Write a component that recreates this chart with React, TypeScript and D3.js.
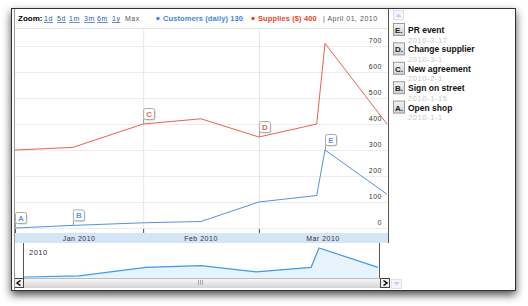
import React from "react";
import * as d3 from "d3";

const dates = ["2010-01-01", "2010-01-15", "2010-02-01", "2010-02-15", "2010-03-01", "2010-03-15", "2010-03-17", "2010-04-01"];
const customers = [0, 10, 20, 25, 100, 125, 300, 130];
const supplies = [300, 310, 400, 420, 350, 400, 710, 400];
const yTicks = [0, 100, 200, 300, 400, 500, 600, 700];
const monthTicks = ["2010-01-01", "2010-02-01", "2010-03-01"];
const monthLabels = ["Jan 2010", "Feb 2010", "Mar 2010"];
const annLetters = ["A", "B", "C", "D", "E"];
const annTitles = ["Open shop", "Sign on street", "New agreement", "Change supplier", "PR event"];
const annDates = ["2010-1-1", "2010-1-15", "2010-2-1", "2010-3-1", "2010-3-17"];
const annIndex = [0, 1, 2, 4, 6];
const annSeries = ["customers", "customers", "supplies", "supplies", "customers"];
const zoomLinks = ["1d", "5d", "1m", "3m", "6m", "1y"];

const BLUE = "#3f86dd";
const RED = "#e8452a";
const FONT = "'Liberation Sans', Arial, sans-serif";

export default function App() {
  const parse = d3.timeParse("%Y-%m-%d");
  const ds = dates.map((d) => parse(d) as Date);
  const domain = [parse("2010-01-01") as Date, parse("2010-04-01") as Date];
  const x = d3.scaleTime().domain(domain).range([15, 387]);
  const y = d3.scaleLinear().domain([0, 700]).range([228, 46]);
  const xo = d3.scaleTime().domain(domain).range([24, 378]);
  const yo = d3.scaleLog().domain([300, 710]).range([277, 248]);

  const line = d3.line<number>().x((_, i) => x(ds[i])).y((v) => y(v));
  const oLine = d3.line<number>().x((_, i) => xo(ds[i])).y((v) => yo(v));
  const oArea = d3.area<number>().x((_, i) => xo(ds[i])).y0(278).y1((v) => yo(v));

  const seriesMap: Record<string, number[]> = { customers, supplies };
  const colorMap: Record<string, string> = { customers: BLUE, supplies: RED };

  const zoomX = [44, 57, 69, 84, 97, 112];

  return (
    <div style={{ position: "absolute", left: 0, top: 0 }}>
      <svg width={528} height={306} style={{ display: "block", fontFamily: FONT }}>
        <defs>
          <filter id="shadow" x="-10%" y="-10%" width="120%" height="130%">
            <feDropShadow dx="0" dy="4" stdDeviation="4.5" floodColor="#000" floodOpacity="0.7" />
          </filter>
          <linearGradient id="sbar" x1="0" y1="0" x2="0" y2="1">
            <stop offset="0" stopColor="#fafafa" />
            <stop offset="1" stopColor="#d4d4d4" />
          </linearGradient>
          <linearGradient id="boxg" x1="0" y1="0" x2="0" y2="1">
            <stop offset="0" stopColor="#f4f4f4" />
            <stop offset="1" stopColor="#d0d0d0" />
          </linearGradient>
        </defs>
        <rect x={0} y={0} width={528} height={306} fill="#fff" />
        {/* window frame */}
        <rect x={11.5} y={8.5} width={504} height={282} fill="#fff" stroke="#333" strokeWidth={1} filter="url(#shadow)" />

        {/* toolbar separator */}
        <line x1={14} x2={388} y1={28.5} y2={28.5} stroke="#e4e4ea" />

        {/* gridlines */}
        {yTicks.map((t) => (
          <line key={"g" + t} x1={14} x2={388} y1={y(t) + 0.5} y2={y(t) + 0.5} stroke="#ebebf0" />
        ))}
        {monthTicks.slice(1).map((m) => (
          <line key={"v" + m} x1={x(parse(m) as Date) + 0.5} x2={x(parse(m) as Date) + 0.5} y1={29} y2={232} stroke="#e6e6ec" />
        ))}

        {/* y labels */}
        {yTicks.map((t) => (
          <text key={"yl" + t} x={382} y={y(t) - 3} textAnchor="end" fontSize={7} letterSpacing={0.5} fill="#333">
            {t}
          </text>
        ))}

        {/* series lines */}
        <path d={line(supplies) as string} fill="none" stroke={RED} strokeWidth={1} strokeOpacity={0.85} />
        <path d={line(customers) as string} fill="none" stroke={BLUE} strokeWidth={1} strokeOpacity={0.9} />

        {/* flags */}
        {annLetters.map((L, k) => {
          const s = annSeries[k];
          const i = annIndex[k];
          const px = x(ds[i]);
          const py = y(seriesMap[s][i]);
          const top = py - 16;
          return (
            <g key={"f" + L}>
              <line x1={px + 0.5} x2={px + 0.5} y1={top + 11} y2={py} stroke="#999" />
              <rect x={px + 1.5} y={top + 1.5} width={11} height={11} rx={2} fill="#bbb" opacity={0.6} />
              <rect x={px + 0.5} y={top + 0.5} width={11} height={11} rx={2} fill="#fff" stroke="#aaa" />
              <text x={px + 6} y={top + 9} textAnchor="middle" fontSize={8} fontWeight="bold" fill={colorMap[s]} fillOpacity={0.85}>
                {L}
              </text>
            </g>
          );
        })}

        {/* axis band */}
        <rect x={14} y={233} width={374} height={10} fill="#d3e5f6" />
        {monthTicks.map((m) => (
          <line key={"t" + m} x1={x(parse(m) as Date) + 0.5} x2={x(parse(m) as Date) + 0.5} y1={229} y2={233} stroke="#555" />
        ))}
        {monthLabels.map((lab, i) => {
          const a = parse(monthTicks[i]) as Date;
          const b = i + 1 < monthTicks.length ? (parse(monthTicks[i + 1]) as Date) : domain[1];
          return (
            <text key={lab} x={(x(a) + x(b)) / 2} y={241} textAnchor="middle" fontSize={7} letterSpacing={0.5} fill="#333">
              {lab}
            </text>
          );
        })}

        {/* overview */}
        <path d={oArea(supplies) as string} fill="#e8f4fd" />
        <path d={oLine(supplies) as string} fill="none" stroke="#3d9be9" strokeWidth={1.2} />
        <text x={29} y={255} fontSize={7.5} letterSpacing={0.5} fill="#333">2010</text>
        <line x1={23.5} x2={23.5} y1={243} y2={278} stroke="#555" />
        <line x1={379.5} x2={379.5} y1={243} y2={278} stroke="#555" />

        {/* scrollbar */}
        <rect x={14} y={278} width={375} height={10} fill="url(#sbar)" />
        <line x1={14} x2={389} y1={278.5} y2={278.5} stroke="#bbb" />
        {[-2, 0, 2].map((o) => (
          <line key={"grip" + o} x1={200.5 + o} x2={200.5 + o} y1={280} y2={285} stroke="#aaa" />
        ))}
        <rect x={14.5} y={278.5} width={9} height={9} fill="#eee" stroke="#444" />
        <path d="M 20.5 280.5 L 17 283 L 20.5 285.5" fill="none" stroke="#000" strokeWidth={1.5} />
        <rect x={380.5} y={278.5} width={9} height={9} fill="#eee" stroke="#444" />
        <path d="M 383.5 280.5 L 387 283 L 383.5 285.5" fill="none" stroke="#000" strokeWidth={1.5} />

        {/* borders of plot */}
        <line x1={14.5} x2={14.5} y1={9} y2={290} stroke="#999" />
        <line x1={388.5} x2={388.5} y1={9} y2={243} stroke="#555" />

        {/* toolbar */}
        <text x={18} y={21} fontSize={8} fontWeight="bold" fill="#000">Zoom:</text>
        {zoomLinks.map((z, i) => (
          <text key={z} x={zoomX[i]} y={21} fontSize={7} letterSpacing={0.5} fill="#2a5db0" textDecoration="underline">
            {z}
          </text>
        ))}
        <text x={125} y={21} fontSize={7} letterSpacing={0.5} fill="#555">Max</text>

        <circle cx={158} cy={18.5} r={1.7} fill={BLUE} />
        <text x={163} y={21} fontSize={7.5} fontWeight="bold" fill={BLUE} letterSpacing={0.1}>
          {"Customers (daily) " + customers[customers.length - 1]}
        </text>
        <circle cx={253} cy={18.5} r={1.7} fill={RED} />
        <text x={258} y={21} fontSize={7.5} fontWeight="bold" fill={RED} letterSpacing={0.1}>
          {"Supplies ($) " + supplies[supplies.length - 1]}
        </text>
        <text x={323} y={21} fontSize={7} letterSpacing={0.5} fill="#555">
          {"| " + d3.timeFormat("%B %d, %Y")(ds[ds.length - 1])}
        </text>

        {/* right annotation panel */}
        <rect x={393.5} y={10.5} width={10} height={9} fill="#f4f4fa" stroke="#e0e0ea" />
        <path d="M 395.5 17 L 398.5 13.5 L 401.5 17 Z" fill="#c5cdf0" />
        <rect x={391.5} y={279.5} width={10} height={9} fill="#f4f4fa" stroke="#e0e0ea" />
        <path d="M 393.5 282 L 396.5 285.5 L 399.5 282 Z" fill="#c5cdf0" />
        {annLetters
          .map((L, k) => ({ L, k }))
          .reverse()
          .map(({ L, k }, j) => {
            const ty = 33 + j * 19.4;
            return (
              <g key={"p" + L}>
                <rect x={393.5} y={ty - 9.5} width={11} height={12} fill="url(#boxg)" stroke="#999" />
                <text x={395} y={ty} fontSize={8} fontWeight="bold" fill="#222">{L + "."}</text>
                <text x={408} y={ty} fontSize={8.5} fontWeight="bold" fill="#111">{annTitles[k]}</text>
                <text x={408} y={ty + 9.5} fontSize={7.5} letterSpacing={0.6} fill="#c8c8c8">{annDates[k]}</text>
              </g>
            );
          })}
      </svg>
    </div>
  );
}
